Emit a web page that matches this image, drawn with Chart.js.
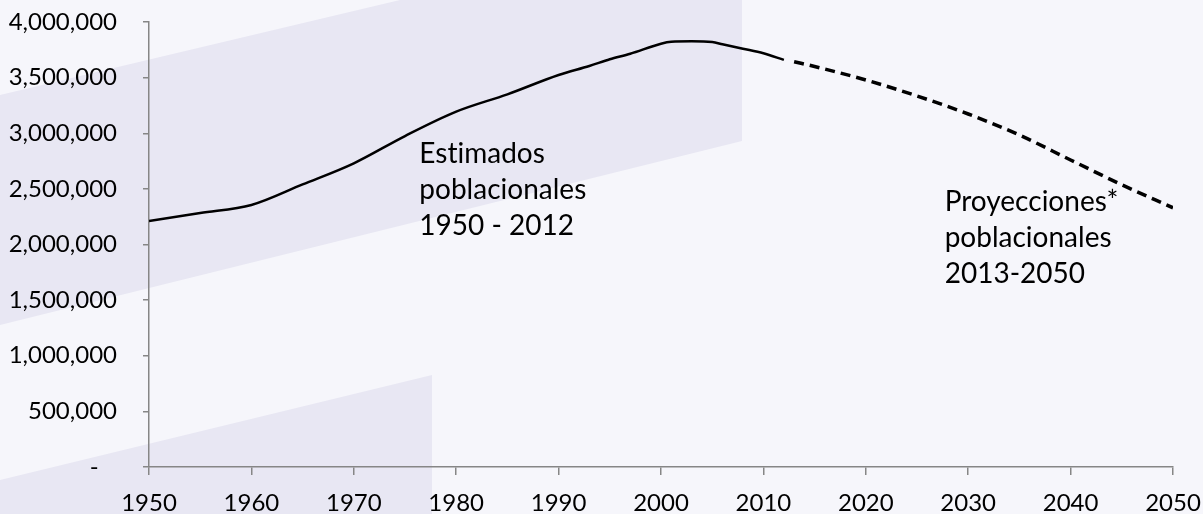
<!DOCTYPE html>
<html>
<head>
<meta charset="utf-8">
<script src="https://cdn.jsdelivr.net/npm/chart.js@4"></script>
<style>
  html, body { margin: 0; padding: 0; background: #f6f6fb; }
  #wrap { width: 1203px; height: 514px; position: relative; }
</style>
</head>
<body>
<div id="wrap"><canvas id="chart"></canvas></div>
<script>
// population estimates 1950-2012 (solid)
const estYears = [1950, 1955, 1960, 1965, 1970, 1975, 1980, 1985, 1990, 1993, 1995, 1997, 2000, 2001, 2003, 2005, 2006, 2008, 2010, 2012];
const estValues = [2211000, 2283000, 2355000, 2540000, 2730000, 2975000, 3194000, 3350000, 3524000, 3605000, 3665000, 3715000, 3805000, 3822000, 3826000, 3820000, 3800000, 3760000, 3719000, 3659000];

// projections 2013-2050 (dashed)
const projYears = [2013, 2015, 2020, 2025, 2030, 2035, 2040, 2045, 2050];
const projValues = [3643000, 3600000, 3479000, 3335000, 3173000, 2984000, 2760000, 2537000, 2330000];

const labelsEst = ['Estimados', 'poblacionales', '1950 - 2012'];
const labelsProj = ['Proyecciones*', 'poblacionales', '2013-2050'];

const FONT = 'Lato, "Open Sans", sans-serif';
const AXIS = '#868686';

// background bands + text notes
const decor = {
  id: 'decor',
  beforeDraw(chart) {
    const ctx = chart.ctx;
    ctx.save();
    ctx.fillStyle = '#f6f6fb';
    ctx.fillRect(0, 0, chart.width, chart.height);
    ctx.fillStyle = '#e8e7f3';
    ctx.beginPath();
    ctx.moveTo(0, 95); ctx.lineTo(400, 0); ctx.lineTo(742, 0);
    ctx.lineTo(742, 141); ctx.lineTo(0, 325); ctx.closePath();
    ctx.fill();
    ctx.beginPath();
    ctx.moveTo(0, 480); ctx.lineTo(432, 375); ctx.lineTo(432, chart.height);
    ctx.lineTo(0, chart.height); ctx.closePath();
    ctx.fill();
    ctx.restore();
  },
  afterDatasetsDraw(chart) {
    const ctx = chart.ctx;
    const x = chart.scales.x;
    ctx.save();
    ctx.fillStyle = '#000';
    ctx.font = '28px ' + FONT;
    ctx.letterSpacing = '0.01px'; // no "ti" ligature
    ctx.textBaseline = 'top';
    labelsEst.forEach((t, i) => ctx.fillText(t, x.getPixelForValue(1976.4), 140 + i * 36));
    labelsProj.forEach((t, i) => ctx.fillText(t, x.getPixelForValue(2027.7), 188 + i * 36));
    ctx.restore();
  }
};

new Chart(document.getElementById('chart'), {
  type: 'line',
  data: {
    datasets: [
      {
        data: estYears.map((yr, i) => ({ x: yr, y: estValues[i] })),
        borderColor: '#000',
        borderWidth: 2.5,
        pointRadius: 0,
        cubicInterpolationMode: 'monotone'
      },
      {
        data: projYears.map((yr, i) => ({ x: yr, y: projValues[i] })),
        borderColor: '#000',
        borderWidth: 3.5,
        borderDash: [10, 6],
        pointRadius: 0,
        cubicInterpolationMode: 'monotone'
      }
    ]
  },
  options: {
    responsive: true,
    maintainAspectRatio: false,
    animation: false,
    layout: { padding: { top: 22, right: 30, left: 0, bottom: 0 } },
    plugins: { legend: { display: false }, tooltip: { enabled: false } },
    scales: {
      x: {
        type: 'linear',
        min: 1950,
        max: 2050,
        afterFit: (s) => { s.height = 47; s.paddingLeft = 0; s.paddingRight = 0; },
        border: { color: AXIS, width: 1.5 },
        grid: { drawOnChartArea: false, drawTicks: true, tickLength: 8, color: AXIS, lineWidth: 1.5 },
        ticks: {
          stepSize: 10,
          padding: 14,
          maxRotation: 0,
          color: '#000',
          font: { family: FONT, size: 24 },
          callback: (v) => String(v)
        }
      },
      y: {
        min: 0,
        max: 4000000,
        afterFit: (s) => { s.width = 149; s.paddingTop = 0; s.paddingBottom = 0; },
        border: { color: AXIS, width: 1.5 },
        grid: { drawOnChartArea: false, drawTicks: true, tickLength: 6, color: AXIS, lineWidth: 1.5 },
        ticks: {
          stepSize: 500000,
          padding: 26,
          color: '#000',
          font: { family: FONT, size: 24 },
          callback: (v) => v === 0 ? '-   ' : v.toLocaleString('en-US')
        }
      }
    }
  },
  plugins: [decor]
});
</script>
</body>
</html>
